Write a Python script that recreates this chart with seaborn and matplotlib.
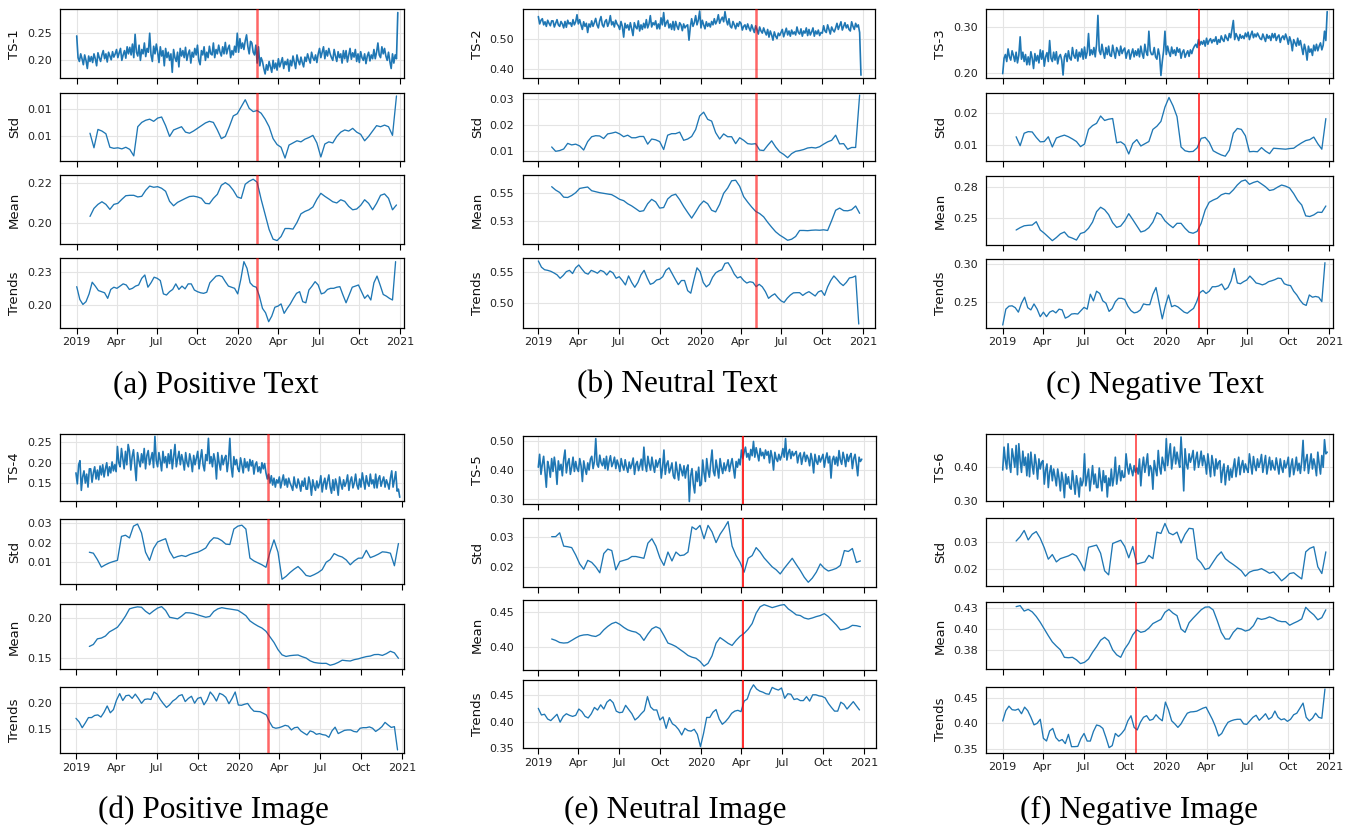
import numpy as np
import pandas as pd
import matplotlib
matplotlib.use("Agg")
import matplotlib.pyplot as plt
import seaborn as sns

# ------------------------------------------------------------------ data
TS_START = "2019-01-01"      # raw series, one value every 3 days
STAT_START = "2019-01-31"    # rolling std / mean, one value every 9 days
TREND_START = "2019-01-01"   # trend, one value every 7 days

ts_a = [0.245, 0.205, 0.198, 0.212, 0.203, 0.192, 0.210, 0.200, 0.185, 0.208, 0.198,
        0.207, 0.196, 0.212, 0.203, 0.190, 0.214, 0.205, 0.198, 0.210,
        0.218, 0.203, 0.212, 0.197, 0.215, 0.208, 0.201, 0.216, 0.206, 0.212,
        0.220, 0.205, 0.214, 0.222, 0.200, 0.210, 0.218, 0.204, 0.225, 0.212,
        0.224, 0.210, 0.230, 0.205, 0.248, 0.215, 0.208, 0.228, 0.200, 0.220, 0.212,
        0.232, 0.207, 0.222, 0.215, 0.250, 0.210, 0.198, 0.226, 0.212, 0.230,
        0.215, 0.196, 0.225, 0.208, 0.218, 0.190, 0.222, 0.205, 0.215, 0.200,
        0.212, 0.178, 0.220, 0.205, 0.198, 0.215, 0.188, 0.222, 0.208, 0.218,
        0.205, 0.224, 0.200, 0.212, 0.219, 0.195, 0.215, 0.206, 0.222, 0.210,
        0.228, 0.200, 0.192, 0.218, 0.210, 0.225, 0.200, 0.215, 0.205, 0.226, 0.212,
        0.210, 0.232, 0.205, 0.220, 0.212, 0.228, 0.215, 0.208, 0.225, 0.212,
        0.233, 0.212, 0.222, 0.228, 0.205, 0.218, 0.210, 0.226, 0.215, 0.250,
        0.215, 0.240, 0.222, 0.232, 0.220, 0.236, 0.247, 0.225, 0.212, 0.235,
        0.232, 0.215, 0.210, 0.228, 0.195, 0.225, 0.190, 0.205, 0.198, 0.185,
        0.175, 0.192, 0.182, 0.198, 0.188, 0.178, 0.200, 0.185, 0.195, 0.182,
        0.203, 0.188, 0.196, 0.205, 0.185, 0.198, 0.192, 0.202, 0.180, 0.200,
        0.190, 0.208, 0.196, 0.185, 0.210, 0.199, 0.192, 0.206, 0.196, 0.188, 0.206,
        0.198, 0.212, 0.203, 0.195, 0.215, 0.205, 0.200, 0.210, 0.196, 0.212,
        0.222, 0.205, 0.215, 0.225, 0.203, 0.218, 0.208, 0.222, 0.212, 0.205,
        0.200, 0.220, 0.208, 0.198, 0.216, 0.205, 0.212, 0.195, 0.218, 0.203,
        0.218, 0.197, 0.210, 0.222, 0.202, 0.214, 0.206, 0.220, 0.198, 0.212,
        0.196, 0.216, 0.205, 0.200, 0.212, 0.194, 0.208, 0.215, 0.199, 0.210, 0.203,
        0.220, 0.203, 0.215, 0.232, 0.210, 0.205, 0.225, 0.212, 0.222, 0.208,
        0.200, 0.215, 0.198, 0.185, 0.212, 0.195, 0.210, 0.203, 0.288]
std_a = [0.0106, 0.0079, 0.0113, 0.0110, 0.0105, 0.0080, 0.0078, 0.0079, 0.0077, 0.0080,
         0.0076, 0.0064, 0.0118, 0.0126, 0.0130, 0.0132, 0.0128, 0.0134, 0.0136, 0.0120,
         0.0100, 0.0112, 0.0115, 0.0118, 0.0108, 0.0106, 0.0110, 0.0115, 0.0120, 0.0125,
         0.0128, 0.0126, 0.0112, 0.0096, 0.0100, 0.0118, 0.0138, 0.0142, 0.0155, 0.0168,
         0.0152, 0.0146, 0.0148, 0.0143, 0.0132, 0.0118, 0.0096, 0.0085, 0.0080, 0.0060,
         0.0084, 0.0088, 0.0092, 0.0090, 0.0095, 0.0098, 0.0102, 0.0088, 0.0062, 0.0086,
         0.0090, 0.0088, 0.0100, 0.0108, 0.0112, 0.0110, 0.0115, 0.0108, 0.0104, 0.0092,
         0.0100, 0.0110, 0.0120, 0.0118, 0.0121, 0.0118, 0.0102, 0.0175]
mean_a = [0.2035, 0.2075, 0.2095, 0.2108, 0.2095, 0.2070, 0.2095, 0.2100, 0.2120, 0.2138,
          0.2140, 0.2140, 0.2132, 0.2135, 0.2165, 0.2186, 0.2180, 0.2183, 0.2175, 0.2160,
          0.2110, 0.2088, 0.2105, 0.2115, 0.2125, 0.2134, 0.2136, 0.2132, 0.2125, 0.2100,
          0.2098, 0.2125, 0.2145, 0.2190, 0.2203, 0.2190, 0.2165, 0.2132, 0.2125, 0.2195,
          0.2210, 0.2220, 0.2205, 0.2120, 0.2045, 0.1970, 0.1922, 0.1915, 0.1935, 0.1975,
          0.1975, 0.1972, 0.2005, 0.2048, 0.2060, 0.2068, 0.2082, 0.2120, 0.2150, 0.2135,
          0.2122, 0.2108, 0.2102, 0.2118, 0.2110, 0.2085, 0.2068, 0.2072, 0.2090, 0.2118,
          0.2100, 0.2068, 0.2100, 0.2140, 0.2147, 0.2125, 0.2068, 0.2092]
trend_a = [0.2165, 0.2050, 0.2005, 0.2030, 0.2100, 0.2205, 0.2170, 0.2130, 0.2120, 0.2110,
           0.2060, 0.2140, 0.2160, 0.2150, 0.2170, 0.2190, 0.2180, 0.2140, 0.2150, 0.2170,
           0.2180, 0.2240, 0.2270, 0.2160, 0.2200, 0.2250, 0.2240, 0.2220, 0.2100, 0.2090,
           0.2120, 0.2140, 0.2190, 0.2140, 0.2170, 0.2145, 0.2190, 0.2190, 0.2135, 0.2120,
           0.2110, 0.2105, 0.2115, 0.2200, 0.2230, 0.2260, 0.2265, 0.2255, 0.2210, 0.2170,
           0.2160, 0.2150, 0.2100, 0.2230, 0.2390, 0.2330, 0.2200, 0.2170, 0.2160, 0.2080,
           0.1970, 0.1930, 0.1850, 0.1900, 0.1980, 0.1990, 0.2010, 0.1925, 0.1970, 0.2010,
           0.2060, 0.2105, 0.2120, 0.2030, 0.2020, 0.2135, 0.2170, 0.2210, 0.2180, 0.2100,
           0.2110, 0.2140, 0.2150, 0.2150, 0.2160, 0.2165, 0.2090, 0.2020, 0.2090, 0.2160,
           0.2170, 0.2180, 0.2120, 0.2060, 0.2090, 0.2045, 0.2200, 0.2260, 0.2180, 0.2095,
           0.2080, 0.2060, 0.2045, 0.2390]

ts_b = [0.572, 0.548, 0.560, 0.565, 0.545, 0.555, 0.540, 0.560, 0.550, 0.542, 0.558,
        0.558, 0.538, 0.550, 0.562, 0.545, 0.540, 0.556, 0.548, 0.535,
        0.556, 0.537, 0.560, 0.548, 0.552, 0.540, 0.562, 0.545, 0.555, 0.578,
        0.548, 0.562, 0.545, 0.530, 0.555, 0.540, 0.550, 0.520, 0.548, 0.538,
        0.558, 0.540, 0.552, 0.566, 0.545, 0.535, 0.558, 0.572, 0.545, 0.538, 0.556,
        0.562, 0.540, 0.552, 0.575, 0.545, 0.555, 0.538, 0.560, 0.548, 0.542,
        0.530, 0.556, 0.540, 0.505, 0.550, 0.535, 0.545, 0.528, 0.552, 0.532,
        0.510, 0.552, 0.538, 0.532, 0.558, 0.525, 0.545, 0.530, 0.550, 0.535,
        0.562, 0.535, 0.548, 0.575, 0.538, 0.552, 0.545, 0.558, 0.532, 0.548,
        0.532, 0.568, 0.545, 0.585, 0.540, 0.552, 0.560, 0.535, 0.548, 0.530, 0.556,
        0.528, 0.556, 0.540, 0.530, 0.552, 0.545, 0.526, 0.548, 0.535, 0.542,
        0.545, 0.495, 0.538, 0.565, 0.540, 0.552, 0.575, 0.545, 0.560, 0.590,
        0.535, 0.560, 0.545, 0.532, 0.555, 0.540, 0.550, 0.538, 0.556, 0.545,
        0.565, 0.548, 0.558, 0.578, 0.550, 0.562, 0.570, 0.555, 0.588, 0.560,
        0.545, 0.565, 0.540, 0.535, 0.556, 0.545, 0.532, 0.550, 0.540, 0.555,
        0.550, 0.528, 0.540, 0.545, 0.530, 0.548, 0.535, 0.525, 0.545, 0.532,
        0.520, 0.542, 0.530, 0.515, 0.538, 0.525, 0.518, 0.535, 0.522, 0.512, 0.530,
        0.505, 0.525, 0.512, 0.495, 0.522, 0.508, 0.500, 0.518, 0.510, 0.520,
        0.530, 0.506, 0.520, 0.534, 0.512, 0.525, 0.508, 0.528, 0.515, 0.522,
        0.512, 0.538, 0.520, 0.515, 0.532, 0.508, 0.525, 0.518, 0.535, 0.510,
        0.530, 0.512, 0.522, 0.535, 0.508, 0.525, 0.515, 0.528, 0.510, 0.520,
        0.518, 0.542, 0.525, 0.520, 0.545, 0.530, 0.515, 0.538, 0.528, 0.522, 0.535,
        0.550, 0.530, 0.542, 0.555, 0.528, 0.540, 0.552, 0.535, 0.545, 0.530,
        0.525, 0.555, 0.540, 0.530, 0.550, 0.538, 0.545, 0.520, 0.381]
std_b = [0.0114, 0.0097, 0.0100, 0.0106, 0.0128, 0.0122, 0.0125, 0.0118, 0.0102, 0.0135,
         0.0154, 0.0158, 0.0157, 0.0147, 0.0165, 0.0168, 0.0172, 0.0165, 0.0154, 0.0160,
         0.0150, 0.0150, 0.0155, 0.0155, 0.0125, 0.0145, 0.0142, 0.0135, 0.0104, 0.0160,
         0.0166, 0.0166, 0.0172, 0.0140, 0.0145, 0.0155, 0.0182, 0.0235, 0.0250, 0.0222,
         0.0215, 0.0170, 0.0145, 0.0165, 0.0154, 0.0154, 0.0127, 0.0150, 0.0140, 0.0127,
         0.0125, 0.0127, 0.0102, 0.0100, 0.0120, 0.0138, 0.0114, 0.0095, 0.0085, 0.0072,
         0.0088, 0.0097, 0.0100, 0.0104, 0.0110, 0.0112, 0.0110, 0.0115, 0.0125, 0.0134,
         0.0140, 0.0160, 0.0126, 0.0127, 0.0105, 0.0112, 0.0112, 0.0317]
mean_b = [0.5561, 0.5530, 0.5508, 0.5465, 0.5462, 0.5480, 0.5506, 0.5545, 0.5552, 0.5558,
          0.5524, 0.5515, 0.5506, 0.5500, 0.5494, 0.5488, 0.5468, 0.5445, 0.5433, 0.5405,
          0.5385, 0.5360, 0.5334, 0.5341, 0.5405, 0.5445, 0.5422, 0.5365, 0.5370, 0.5448,
          0.5480, 0.5492, 0.5442, 0.5380, 0.5325, 0.5273, 0.5330, 0.5390, 0.5430, 0.5405,
          0.5345, 0.5330, 0.5400, 0.5500, 0.5548, 0.5615, 0.5620, 0.5565, 0.5470, 0.5420,
          0.5375, 0.5335, 0.5315, 0.5285, 0.5235, 0.5190, 0.5148, 0.5118, 0.5095, 0.5070,
          0.5080, 0.5105, 0.5160, 0.5160, 0.5158, 0.5162, 0.5164, 0.5162, 0.5166, 0.5160,
          0.5250, 0.5345, 0.5365, 0.5342, 0.5340, 0.5350, 0.5384, 0.5317]
trend_b = [0.5668, 0.5570, 0.5530, 0.5520, 0.5505, 0.5480, 0.5450, 0.5395, 0.5440, 0.5500,
           0.5520, 0.5470, 0.5560, 0.5605, 0.5540, 0.5480, 0.5460, 0.5520, 0.5500, 0.5475,
           0.5520, 0.5500, 0.5447, 0.5510, 0.5480, 0.5395, 0.5420, 0.5360, 0.5290, 0.5432,
           0.5330, 0.5253, 0.5330, 0.5450, 0.5520, 0.5400, 0.5300, 0.5320, 0.5368, 0.5380,
           0.5420, 0.5520, 0.5560, 0.5470, 0.5380, 0.5295, 0.5360, 0.5360, 0.5200, 0.5160,
           0.5368, 0.5560, 0.5500, 0.5330, 0.5260, 0.5300, 0.5410, 0.5480, 0.5510, 0.5530,
           0.5630, 0.5640, 0.5560, 0.5460, 0.5400, 0.5420, 0.5360, 0.5320, 0.5340, 0.5330,
           0.5263, 0.5300, 0.5260, 0.5184, 0.5079, 0.5120, 0.5150, 0.5090, 0.5040, 0.5015,
           0.5080, 0.5130, 0.5165, 0.5168, 0.5168, 0.5125, 0.5160, 0.5184, 0.5150, 0.5116,
           0.5180, 0.5200, 0.5125, 0.5260, 0.5360, 0.5432, 0.5380, 0.5320, 0.5280, 0.5330,
           0.5400, 0.5410, 0.5432, 0.4674]

ts_c = [0.199, 0.232, 0.240, 0.225, 0.252, 0.235, 0.228, 0.248, 0.238, 0.225, 0.245,
        0.222, 0.238, 0.278, 0.230, 0.245, 0.225, 0.240, 0.218, 0.235,
        0.218, 0.246, 0.232, 0.210, 0.242, 0.226, 0.238, 0.222, 0.250, 0.230,
        0.248, 0.215, 0.235, 0.244, 0.225, 0.270, 0.232, 0.225, 0.245, 0.228,
        0.246, 0.220, 0.235, 0.240, 0.228, 0.196, 0.235, 0.242, 0.225, 0.248, 0.232,
        0.228, 0.255, 0.238, 0.232, 0.250, 0.226, 0.245, 0.235, 0.252, 0.230,
        0.256, 0.232, 0.245, 0.285, 0.238, 0.250, 0.240, 0.255, 0.235, 0.262,
        0.324, 0.248, 0.240, 0.262, 0.245, 0.232, 0.255, 0.240, 0.258, 0.238,
        0.236, 0.260, 0.245, 0.232, 0.255, 0.248, 0.238, 0.258, 0.242, 0.250,
        0.254, 0.232, 0.245, 0.250, 0.230, 0.242, 0.252, 0.235, 0.248, 0.238, 0.252,
        0.235, 0.258, 0.242, 0.232, 0.262, 0.245, 0.238, 0.290, 0.248, 0.240,
        0.240, 0.255, 0.235, 0.230, 0.252, 0.238, 0.195, 0.225, 0.248, 0.290,
        0.240, 0.258, 0.245, 0.236, 0.256, 0.242, 0.250, 0.238, 0.255, 0.245,
        0.252, 0.232, 0.245, 0.250, 0.234, 0.242, 0.248, 0.236, 0.250, 0.242,
        0.252, 0.258, 0.262, 0.255, 0.272, 0.260, 0.268, 0.262, 0.270, 0.258,
        0.275, 0.262, 0.270, 0.274, 0.265, 0.272, 0.268, 0.278, 0.262, 0.272,
        0.266, 0.280, 0.272, 0.268, 0.282, 0.275, 0.270, 0.285, 0.276, 0.295, 0.313,
        0.272, 0.285, 0.278, 0.270, 0.283, 0.275, 0.280, 0.274, 0.286, 0.278,
        0.288, 0.272, 0.282, 0.290, 0.276, 0.284, 0.278, 0.286, 0.280, 0.274,
        0.272, 0.284, 0.276, 0.268, 0.283, 0.275, 0.280, 0.270, 0.285, 0.276,
        0.285, 0.270, 0.278, 0.282, 0.266, 0.276, 0.280, 0.272, 0.284, 0.275,
        0.262, 0.278, 0.268, 0.248, 0.272, 0.265, 0.258, 0.275, 0.260, 0.270, 0.255,
        0.240, 0.262, 0.250, 0.228, 0.258, 0.245, 0.252, 0.238, 0.260, 0.248,
        0.262, 0.248, 0.258, 0.265, 0.250, 0.260, 0.290, 0.270, 0.332]
std_c = [0.0127, 0.0099, 0.0138, 0.0143, 0.0142, 0.0125, 0.0111, 0.0112, 0.0127, 0.0095,
         0.0123, 0.0128, 0.0132, 0.0127, 0.0120, 0.0112, 0.0096, 0.0104, 0.0150, 0.0162,
         0.0169, 0.0192, 0.0178, 0.0182, 0.0184, 0.0108, 0.0111, 0.0102, 0.0073, 0.0106,
         0.0118, 0.0098, 0.0105, 0.0112, 0.0150, 0.0160, 0.0175, 0.0220, 0.0250, 0.0224,
         0.0190, 0.0095, 0.0083, 0.0080, 0.0081, 0.0092, 0.0122, 0.0125, 0.0110, 0.0083,
         0.0076, 0.0070, 0.0066, 0.0085, 0.0138, 0.0153, 0.0150, 0.0130, 0.0080, 0.0081,
         0.0080, 0.0093, 0.0082, 0.0074, 0.0091, 0.0090, 0.0089, 0.0088, 0.0090, 0.0091,
         0.0100, 0.0108, 0.0115, 0.0118, 0.0126, 0.0105, 0.0088, 0.0184]
mean_c = [0.2406, 0.2425, 0.2440, 0.2444, 0.2446, 0.2473, 0.2406, 0.2380, 0.2350, 0.2320,
          0.2345, 0.2375, 0.2390, 0.2352, 0.2340, 0.2325, 0.2378, 0.2388, 0.2420, 0.2470,
          0.2554, 0.2590, 0.2570, 0.2530, 0.2465, 0.2427, 0.2438, 0.2480, 0.2538, 0.2490,
          0.2440, 0.2390, 0.2400, 0.2425, 0.2470, 0.2546, 0.2530, 0.2480, 0.2450, 0.2425,
          0.2460, 0.2460, 0.2420, 0.2388, 0.2380, 0.2395, 0.2460, 0.2567, 0.2630, 0.2648,
          0.2662, 0.2690, 0.2702, 0.2698, 0.2730, 0.2770, 0.2800, 0.2810, 0.2775, 0.2790,
          0.2800, 0.2778, 0.2755, 0.2725, 0.2732, 0.2752, 0.2769, 0.2760, 0.2745, 0.2700,
          0.2645, 0.2608, 0.2520, 0.2515, 0.2528, 0.2550, 0.2548, 0.2600]
trend_c = [0.2188, 0.2400, 0.2440, 0.2445, 0.2420, 0.2360, 0.2480, 0.2560, 0.2420, 0.2390,
           0.2470, 0.2400, 0.2299, 0.2360, 0.2300, 0.2360, 0.2380, 0.2350, 0.2400, 0.2390,
           0.2280, 0.2300, 0.2335, 0.2340, 0.2335, 0.2380, 0.2424, 0.2400, 0.2600, 0.2510,
           0.2640, 0.2610, 0.2510, 0.2480, 0.2370, 0.2410, 0.2500, 0.2545, 0.2545, 0.2530,
           0.2440, 0.2380, 0.2350, 0.2360, 0.2390, 0.2470, 0.2460, 0.2460, 0.2600, 0.2690,
           0.2480, 0.2270, 0.2450, 0.2589, 0.2433, 0.2450, 0.2430, 0.2395, 0.2360, 0.2345,
           0.2380, 0.2410, 0.2500, 0.2620, 0.2650, 0.2610, 0.2640, 0.2700, 0.2700, 0.2710,
           0.2736, 0.2660, 0.2690, 0.2780, 0.2946, 0.2750, 0.2740, 0.2768, 0.2790, 0.2843,
           0.2800, 0.2750, 0.2740, 0.2725, 0.2740, 0.2768, 0.2780, 0.2795, 0.2815, 0.2810,
           0.2740, 0.2723, 0.2715, 0.2640, 0.2590, 0.2522, 0.2470, 0.2450, 0.2590, 0.2560,
           0.2570, 0.2560, 0.2500, 0.3022]

ts_d = [0.175, 0.148, 0.195, 0.205, 0.132, 0.165, 0.180, 0.150, 0.172, 0.140, 0.185,
        0.185, 0.152, 0.175, 0.190, 0.160, 0.182, 0.158, 0.192, 0.170,
        0.195, 0.165, 0.185, 0.200, 0.168, 0.190, 0.175, 0.202, 0.180, 0.195,
        0.178, 0.240, 0.200, 0.190, 0.235, 0.210, 0.185, 0.228, 0.195, 0.245,
        0.228, 0.182, 0.215, 0.232, 0.195, 0.156, 0.225, 0.205, 0.190, 0.222, 0.200,
        0.235, 0.185, 0.218, 0.230, 0.195, 0.210, 0.225, 0.188, 0.265, 0.205,
        0.190, 0.225, 0.205, 0.180, 0.228, 0.200, 0.215, 0.188, 0.222, 0.198,
        0.232, 0.185, 0.215, 0.245, 0.190, 0.210, 0.228, 0.195, 0.220, 0.205,
        0.182, 0.225, 0.200, 0.190, 0.222, 0.205, 0.178, 0.218, 0.195, 0.212,
        0.228, 0.185, 0.210, 0.232, 0.195, 0.180, 0.220, 0.205, 0.260, 0.198, 0.215,
        0.190, 0.222, 0.205, 0.160, 0.225, 0.200, 0.182, 0.218, 0.195, 0.210,
        0.218, 0.178, 0.205, 0.260, 0.190, 0.165, 0.215, 0.195, 0.208, 0.185,
        0.178, 0.212, 0.195, 0.175, 0.210, 0.188, 0.202, 0.180, 0.208, 0.192,
        0.205, 0.172, 0.195, 0.202, 0.178, 0.190, 0.175, 0.200, 0.185, 0.198,
        0.175, 0.160, 0.172, 0.150, 0.168, 0.145, 0.162, 0.140, 0.158, 0.150,
        0.165, 0.138, 0.155, 0.170, 0.145, 0.160, 0.140, 0.162, 0.150, 0.142,
        0.132, 0.165, 0.145, 0.138, 0.160, 0.148, 0.130, 0.155, 0.142, 0.162, 0.135,
        0.135, 0.165, 0.150, 0.120, 0.158, 0.142, 0.132, 0.155, 0.138, 0.148,
        0.168, 0.128, 0.150, 0.162, 0.135, 0.155, 0.170, 0.140, 0.125, 0.158,
        0.132, 0.160, 0.145, 0.120, 0.165, 0.148, 0.135, 0.158, 0.142, 0.152,
        0.170, 0.132, 0.155, 0.165, 0.138, 0.150, 0.172, 0.145, 0.135, 0.160,
        0.140, 0.175, 0.155, 0.135, 0.168, 0.150, 0.142, 0.172, 0.148, 0.158, 0.138,
        0.172, 0.138, 0.160, 0.168, 0.142, 0.155, 0.165, 0.140, 0.158, 0.148,
        0.135, 0.162, 0.180, 0.140, 0.158, 0.178, 0.130, 0.135, 0.115]
std_d = [0.0150, 0.0145, 0.0112, 0.0073, 0.0085, 0.0095, 0.0102, 0.0108, 0.0232, 0.0238,
         0.0224, 0.0285, 0.0296, 0.0250, 0.0150, 0.0108, 0.0170, 0.0203, 0.0212, 0.0220,
         0.0155, 0.0120, 0.0128, 0.0133, 0.0128, 0.0138, 0.0145, 0.0150, 0.0160, 0.0172,
         0.0205, 0.0225, 0.0222, 0.0210, 0.0192, 0.0190, 0.0270, 0.0285, 0.0290, 0.0270,
         0.0120, 0.0105, 0.0095, 0.0085, 0.0072, 0.0150, 0.0214, 0.0150, 0.0010, 0.0025,
         0.0045, 0.0062, 0.0076, 0.0055, 0.0030, 0.0025, 0.0034, 0.0045, 0.0060, 0.0098,
         0.0112, 0.0143, 0.0132, 0.0125, 0.0110, 0.0085, 0.0105, 0.0119, 0.0120, 0.0160,
         0.0122, 0.0130, 0.0140, 0.0152, 0.0150, 0.0145, 0.0080, 0.0195]
mean_d = [0.1640, 0.1665, 0.1735, 0.1745, 0.1770, 0.1822, 0.1850, 0.1880, 0.1945, 0.2020,
          0.2110, 0.2125, 0.2135, 0.2130, 0.2080, 0.2045, 0.2085, 0.2120, 0.2138, 0.2090,
          0.2005, 0.1995, 0.1985, 0.2020, 0.2062, 0.2060, 0.2052, 0.2035, 0.2020, 0.2005,
          0.2015, 0.2078, 0.2110, 0.2125, 0.2115, 0.2108, 0.2100, 0.2092, 0.2060, 0.2025,
          0.1960, 0.1925, 0.1895, 0.1870, 0.1830, 0.1760, 0.1690, 0.1600, 0.1535, 0.1515,
          0.1525, 0.1530, 0.1533, 0.1512, 0.1495, 0.1460, 0.1440, 0.1432, 0.1428, 0.1429,
          0.1405, 0.1418, 0.1440, 0.1468, 0.1462, 0.1458, 0.1475, 0.1485, 0.1500, 0.1513,
          0.1520, 0.1538, 0.1540, 0.1528, 0.1550, 0.1580, 0.1560, 0.1492]
trend_d = [0.1706, 0.1640, 0.1530, 0.1620, 0.1720, 0.1720, 0.1760, 0.1770, 0.1730, 0.1820,
           0.1938, 0.1810, 0.1870, 0.2050, 0.2170, 0.2040, 0.2130, 0.2140, 0.2080, 0.2160,
           0.2080, 0.1988, 0.2060, 0.2070, 0.2060, 0.2200, 0.2160, 0.2060, 0.1980, 0.1910,
           0.1960, 0.2030, 0.2070, 0.2130, 0.2150, 0.2020, 0.2080, 0.2120, 0.1990, 0.2080,
           0.2100, 0.1960, 0.2050, 0.2200, 0.2130, 0.2030, 0.2175, 0.2150, 0.2100, 0.1980,
           0.2080, 0.2200, 0.1956, 0.1950, 0.1970, 0.1985, 0.1900, 0.1840, 0.1835, 0.1830,
           0.1800, 0.1769, 0.1640, 0.1540, 0.1520, 0.1530, 0.1550, 0.1575, 0.1560, 0.1488,
           0.1530, 0.1540, 0.1470, 0.1430, 0.1394, 0.1470, 0.1450, 0.1406, 0.1420, 0.1400,
           0.1390, 0.1350, 0.1470, 0.1540, 0.1420, 0.1450, 0.1480, 0.1488, 0.1488, 0.1460,
           0.1450, 0.1520, 0.1531, 0.1531, 0.1545, 0.1520, 0.1460, 0.1500, 0.1550, 0.1630,
           0.1580, 0.1535, 0.1550, 0.1113]

ts_e = [0.410, 0.455, 0.385, 0.420, 0.448, 0.395, 0.340, 0.430, 0.410, 0.375, 0.440,
        0.395, 0.445, 0.410, 0.350, 0.432, 0.400, 0.420, 0.380, 0.438,
        0.470, 0.390, 0.425, 0.440, 0.385, 0.410, 0.445, 0.395, 0.430, 0.405,
        0.395, 0.440, 0.415, 0.360, 0.432, 0.405, 0.385, 0.425, 0.400, 0.438,
        0.448, 0.405, 0.430, 0.510, 0.420, 0.410, 0.452, 0.425, 0.415, 0.440, 0.405,
        0.448, 0.400, 0.430, 0.450, 0.412, 0.425, 0.445, 0.405, 0.435, 0.418,
        0.395, 0.440, 0.415, 0.400, 0.436, 0.410, 0.392, 0.428, 0.405, 0.420,
        0.442, 0.385, 0.420, 0.430, 0.398, 0.415, 0.438, 0.400, 0.480, 0.420,
        0.395, 0.448, 0.420, 0.400, 0.445, 0.415, 0.392, 0.435, 0.410, 0.428,
        0.440, 0.372, 0.410, 0.470, 0.385, 0.420, 0.432, 0.390, 0.405, 0.425, 0.380,
        0.370, 0.428, 0.395, 0.365, 0.420, 0.400, 0.380, 0.415, 0.372, 0.405,
        0.418, 0.290, 0.380, 0.405, 0.350, 0.320, 0.395, 0.360, 0.410, 0.345,
        0.350, 0.435, 0.390, 0.360, 0.440, 0.400, 0.375, 0.425, 0.470, 0.395,
        0.380, 0.435, 0.405, 0.372, 0.440, 0.410, 0.388, 0.425, 0.398, 0.415,
        0.436, 0.395, 0.420, 0.440, 0.405, 0.372, 0.430, 0.410, 0.438, 0.418,
        0.470, 0.440, 0.462, 0.480, 0.445, 0.458, 0.435, 0.472, 0.450, 0.500,
        0.445, 0.478, 0.455, 0.432, 0.475, 0.450, 0.462, 0.440, 0.470, 0.452, 0.465,
        0.425, 0.468, 0.445, 0.400, 0.462, 0.440, 0.430, 0.455, 0.435, 0.450,
        0.475, 0.445, 0.510, 0.435, 0.460, 0.472, 0.440, 0.465, 0.450, 0.458,
        0.465, 0.425, 0.450, 0.460, 0.420, 0.445, 0.462, 0.430, 0.452, 0.440,
        0.415, 0.458, 0.435, 0.390, 0.455, 0.430, 0.420, 0.450, 0.428, 0.442,
        0.455, 0.410, 0.440, 0.460, 0.425, 0.448, 0.372, 0.435, 0.448, 0.420, 0.445,
        0.415, 0.468, 0.435, 0.420, 0.462, 0.440, 0.412, 0.455, 0.430, 0.448,
        0.458, 0.405, 0.440, 0.455, 0.420, 0.380, 0.445, 0.430, 0.438]
std_e = [0.0302, 0.0302, 0.0315, 0.0270, 0.0268, 0.0265, 0.0240, 0.0210, 0.0192, 0.0222,
         0.0215, 0.0200, 0.0180, 0.0245, 0.0260, 0.0255, 0.0190, 0.0218, 0.0222, 0.0226,
         0.0235, 0.0235, 0.0232, 0.0229, 0.0280, 0.0295, 0.0270, 0.0230, 0.0205, 0.0250,
         0.0220, 0.0250, 0.0238, 0.0240, 0.0250, 0.0335, 0.0326, 0.0340, 0.0295, 0.0340,
         0.0318, 0.0282, 0.0310, 0.0330, 0.0353, 0.0270, 0.0238, 0.0215, 0.0182, 0.0229,
         0.0238, 0.0265, 0.0250, 0.0230, 0.0215, 0.0200, 0.0190, 0.0176, 0.0195, 0.0212,
         0.0229, 0.0208, 0.0188, 0.0165, 0.0148, 0.0162, 0.0182, 0.0210, 0.0195, 0.0186,
         0.0190, 0.0195, 0.0205, 0.0255, 0.0252, 0.0262, 0.0215, 0.0220]
mean_e = [0.4110, 0.4090, 0.4060, 0.4052, 0.4057, 0.4090, 0.4125, 0.4155, 0.4168, 0.4172,
          0.4155, 0.4146, 0.4175, 0.4240, 0.4290, 0.4330, 0.4350, 0.4319, 0.4275, 0.4240,
          0.4220, 0.4208, 0.4170, 0.4090, 0.4180, 0.4255, 0.4285, 0.4260, 0.4160, 0.4052,
          0.4030, 0.4002, 0.3960, 0.3920, 0.3875, 0.3850, 0.3835, 0.3790, 0.3722, 0.3762,
          0.3870, 0.4050, 0.4130, 0.4090, 0.4048, 0.4018, 0.4090, 0.4150, 0.4190, 0.4250,
          0.4330, 0.4480, 0.4571, 0.4600, 0.4580, 0.4558, 0.4575, 0.4592, 0.4602, 0.4540,
          0.4500, 0.4455, 0.4445, 0.4410, 0.4395, 0.4410, 0.4430, 0.4445, 0.4472, 0.4430,
          0.4370, 0.4310, 0.4240, 0.4250, 0.4270, 0.4305, 0.4300, 0.4286]
trend_e = [0.4253, 0.4127, 0.4140, 0.4050, 0.4020, 0.4080, 0.4140, 0.3990, 0.4100, 0.4150,
           0.4120, 0.4100, 0.4120, 0.4240, 0.4190, 0.4100, 0.4070, 0.4150, 0.4270, 0.4220,
           0.4320, 0.4240, 0.4370, 0.4420, 0.4360, 0.4200, 0.4170, 0.4180, 0.4310, 0.4230,
           0.4150, 0.4032, 0.4080, 0.4150, 0.4210, 0.4475, 0.4280, 0.4222, 0.4222, 0.4032,
           0.4090, 0.3873, 0.4076, 0.3960, 0.3920, 0.3850, 0.3747, 0.3873, 0.3830, 0.3820,
           0.3855, 0.3760, 0.3525, 0.3780, 0.4080, 0.4080, 0.4180, 0.4230, 0.4050, 0.3950,
           0.4000, 0.4070, 0.4158, 0.4200, 0.4215, 0.4190, 0.4390, 0.4430, 0.4600, 0.4700,
           0.4620, 0.4580, 0.4560, 0.4530, 0.4520, 0.4650, 0.4620, 0.4600, 0.4640, 0.4443,
           0.4530, 0.4520, 0.4420, 0.4435, 0.4400, 0.4400, 0.4475, 0.4390, 0.4510, 0.4510,
           0.4490, 0.4480, 0.4450, 0.4348, 0.4270, 0.4200, 0.4200, 0.4370, 0.4330, 0.4240,
           0.4310, 0.4380, 0.4300, 0.4222]

ts_f = [0.392, 0.460, 0.420, 0.395, 0.470, 0.410, 0.385, 0.455, 0.430, 0.400, 0.465,
        0.378, 0.470, 0.420, 0.385, 0.448, 0.405, 0.430, 0.375, 0.440,
        0.372, 0.445, 0.405, 0.380, 0.438, 0.410, 0.365, 0.425, 0.395, 0.415,
        0.420, 0.350, 0.392, 0.410, 0.340, 0.385, 0.405, 0.360, 0.395, 0.372,
        0.345, 0.395, 0.368, 0.330, 0.385, 0.360, 0.310, 0.380, 0.350, 0.372, 0.340,
        0.335, 0.390, 0.355, 0.320, 0.375, 0.350, 0.312, 0.368, 0.345, 0.360,
        0.440, 0.345, 0.372, 0.395, 0.330, 0.365, 0.405, 0.350, 0.380, 0.340,
        0.340, 0.398, 0.365, 0.330, 0.390, 0.355, 0.375, 0.312, 0.368, 0.345,
        0.395, 0.345, 0.372, 0.430, 0.350, 0.380, 0.405, 0.360, 0.390, 0.370,
        0.372, 0.440, 0.400, 0.380, 0.410, 0.392, 0.375, 0.405, 0.385, 0.398, 0.380,
        0.425, 0.345, 0.400, 0.430, 0.385, 0.410, 0.440, 0.375, 0.405, 0.395,
        0.335, 0.420, 0.395, 0.375, 0.450, 0.400, 0.380, 0.430, 0.410, 0.390,
        0.485, 0.405, 0.440, 0.470, 0.395, 0.425, 0.460, 0.410, 0.445, 0.420,
        0.400, 0.490, 0.420, 0.330, 0.455, 0.410, 0.395, 0.440, 0.415, 0.430,
        0.450, 0.392, 0.425, 0.445, 0.400, 0.420, 0.448, 0.405, 0.435, 0.415,
        0.380, 0.440, 0.405, 0.372, 0.435, 0.410, 0.375, 0.425, 0.395, 0.415,
        0.420, 0.355, 0.390, 0.410, 0.348, 0.385, 0.405, 0.362, 0.395, 0.370, 0.400,
        0.425, 0.372, 0.400, 0.430, 0.378, 0.405, 0.420, 0.385, 0.410, 0.395,
        0.385, 0.440, 0.410, 0.380, 0.432, 0.405, 0.390, 0.425, 0.400, 0.415,
        0.438, 0.385, 0.410, 0.435, 0.380, 0.405, 0.430, 0.392, 0.420, 0.400,
        0.392, 0.428, 0.405, 0.380, 0.425, 0.400, 0.385, 0.420, 0.398, 0.410,
        0.430, 0.372, 0.405, 0.425, 0.378, 0.400, 0.430, 0.390, 0.412, 0.382, 0.418,
        0.480, 0.390, 0.420, 0.438, 0.382, 0.410, 0.440, 0.395, 0.425, 0.405,
        0.375, 0.445, 0.410, 0.380, 0.435, 0.400, 0.482, 0.440, 0.445]
std_f = [0.0305, 0.0321, 0.0344, 0.0309, 0.0330, 0.0340, 0.0315, 0.0280, 0.0238, 0.0255,
         0.0228, 0.0240, 0.0245, 0.0250, 0.0258, 0.0250, 0.0225, 0.0195, 0.0282, 0.0286,
         0.0290, 0.0260, 0.0195, 0.0180, 0.0296, 0.0302, 0.0308, 0.0285, 0.0243, 0.0285,
         0.0220, 0.0224, 0.0228, 0.0252, 0.0240, 0.0338, 0.0333, 0.0370, 0.0335, 0.0328,
         0.0338, 0.0298, 0.0330, 0.0352, 0.0350, 0.0240, 0.0224, 0.0200, 0.0205, 0.0228,
         0.0250, 0.0265, 0.0240, 0.0228, 0.0218, 0.0207, 0.0195, 0.0175, 0.0190, 0.0196,
         0.0198, 0.0203, 0.0195, 0.0186, 0.0191, 0.0176, 0.0158, 0.0170, 0.0185, 0.0188,
         0.0176, 0.0165, 0.0265, 0.0278, 0.0284, 0.0210, 0.0185, 0.0265]
mean_f = [0.4268, 0.4280, 0.4215, 0.4235, 0.4205, 0.4150, 0.4080, 0.4000, 0.3920, 0.3845,
          0.3795, 0.3750, 0.3660, 0.3655, 0.3660, 0.3630, 0.3585, 0.3600, 0.3640, 0.3720,
          0.3788, 0.3865, 0.3900, 0.3860, 0.3750, 0.3690, 0.3660, 0.3760, 0.3830, 0.3930,
          0.3990, 0.3960, 0.3972, 0.4010, 0.4065, 0.4090, 0.4115, 0.4200, 0.4235, 0.4190,
          0.4160, 0.4000, 0.3960, 0.4075, 0.4130, 0.4180, 0.4230, 0.4262, 0.4265, 0.4228,
          0.4100, 0.3960, 0.3880, 0.3880, 0.3960, 0.4010, 0.4000, 0.3975, 0.3990, 0.4040,
          0.4130, 0.4115, 0.4125, 0.4145, 0.4128, 0.4100, 0.4088, 0.4088, 0.4045, 0.4070,
          0.4092, 0.4120, 0.4260, 0.4210, 0.4170, 0.4110, 0.4136, 0.4230]
trend_f = [0.4046, 0.4250, 0.4340, 0.4270, 0.4260, 0.4283, 0.4190, 0.4320, 0.4250, 0.4120,
           0.3970, 0.4000, 0.4080, 0.3704, 0.3651, 0.3850, 0.3900, 0.3717, 0.3650, 0.3680,
           0.3600, 0.3783, 0.3539, 0.3540, 0.3545, 0.3700, 0.3800, 0.3650, 0.3650, 0.3840,
           0.3967, 0.3950, 0.3900, 0.3720, 0.3520, 0.3560, 0.3800, 0.3740, 0.3800, 0.3880,
           0.4050, 0.4150, 0.3920, 0.3870, 0.4020, 0.4120, 0.4151, 0.4060, 0.4080, 0.4170,
           0.4100, 0.4050, 0.4420, 0.4263, 0.4050, 0.3990, 0.3920, 0.3990, 0.4100, 0.4200,
           0.4225, 0.4230, 0.4240, 0.4270, 0.4300, 0.4320, 0.4200, 0.4080, 0.3934, 0.3750,
           0.3800, 0.3920, 0.4020, 0.4050, 0.4070, 0.4080, 0.4080, 0.3990, 0.3980, 0.4050,
           0.4120, 0.4160, 0.4060, 0.4120, 0.4190, 0.4080, 0.4120, 0.4243, 0.4120, 0.4070,
           0.4090, 0.4040, 0.4080, 0.4170, 0.4200, 0.4300, 0.4400, 0.4120, 0.4050, 0.4100,
           0.4200, 0.4120, 0.4100, 0.4678]

series_names = ["TS-1", "TS-2", "TS-3", "TS-4", "TS-5", "TS-6"]
row_names = ["Std", "Mean", "Trends"]
captions = ["(a) Positive Text", "(b) Neutral Text", "(c) Negative Text",
            "(d) Positive Image", "(e) Neutral Image", "(f) Negative Image"]
change_dates = ["2020-02-12", "2020-05-04", "2020-03-16",
                "2020-03-06", "2020-04-04", "2019-10-26"]
xtick_dates = ["2019-01-01", "2019-04-01", "2019-07-01", "2019-10-01",
               "2020-01-01", "2020-04-01", "2020-07-01", "2020-10-01", "2021-01-01"]
xtick_labels = ["2019", "Apr", "Jul", "Oct", "2020", "Apr", "Jul", "Oct", "2021"]

yticks = {
    "a": [[0.20, 0.25], [0.010, 0.015], [0.20, 0.22], [0.20, 0.23]],
    "b": [[0.40, 0.50], [0.01, 0.02, 0.03], [0.525, 0.55], [0.50, 0.55]],
    "c": [[0.20, 0.30], [0.01, 0.02], [0.25, 0.275], [0.25, 0.30]],
    "d": [[0.15, 0.20, 0.25], [0.01, 0.02, 0.03], [0.15, 0.20], [0.15, 0.20]],
    "e": [[0.30, 0.40, 0.50], [0.02, 0.03], [0.40, 0.45], [0.35, 0.40, 0.45]],
    "f": [[0.30, 0.40], [0.02, 0.03], [0.375, 0.40, 0.425], [0.35, 0.40, 0.45]],
}
ytick_labels = {
    "a": [["0.20", "0.25"], ["0.01", "0.01"], ["0.20", "0.22"], ["0.20", "0.23"]],
    "b": [["0.40", "0.50"], ["0.01", "0.02", "0.03"], ["0.53", "0.55"], ["0.50", "0.55"]],
    "c": [["0.20", "0.30"], ["0.01", "0.02"], ["0.25", "0.28"], ["0.25", "0.30"]],
    "d": [["0.15", "0.20", "0.25"], ["0.01", "0.02", "0.03"], ["0.15", "0.20"], ["0.15", "0.20"]],
    "e": [["0.30", "0.40", "0.50"], ["0.02", "0.03"], ["0.40", "0.45"], ["0.35", "0.40", "0.45"]],
    "f": [["0.30", "0.40"], ["0.02", "0.03"], ["0.38", "0.40", "0.43"], ["0.35", "0.40", "0.45"]],
}

panel_data = {
    "a": [ts_a, std_a, mean_a, trend_a],
    "b": [ts_b, std_b, mean_b, trend_b],
    "c": [ts_c, std_c, mean_c, trend_c],
    "d": [ts_d, std_d, mean_d, trend_d],
    "e": [ts_e, std_e, mean_e, trend_e],
    "f": [ts_f, std_f, mean_f, trend_f],
}

# ------------------------------------------------------------------ layout (pixels)
W, H = 1358, 827
TOP_ROWS = [(9.3, 78.3), (92.7, 161.3), (175, 244), (258.3, 327.7)]
layout = {
    "a": dict(x=(60, 404), rows=TOP_ROWS, xlim=(-37.8, 740), cap=(216, 385),
              ylims=[(0.167, 0.294), (0.0054, 0.0181), (0.1898, 0.2241), (0.1796, 0.242)],
              red=(1.8, 0.6)),
    "b": dict(x=(522.7, 875.5), rows=TOP_ROWS, xlim=(-35.2, 758.7), cap=(677, 385),
              ylims=[(0.3707, 0.5957), (0.0058, 0.0326), (0.5036, 0.5668), (0.4616, 0.571)],
              red=(1.8, 0.6)),
    "c": dict(x=(986, 1333), rows=[(9.3, 78.3), (92.7, 161), (176, 245), (259.3, 327.7)],
              xlim=(-37.4, 739), cap=(1155, 385),
              ylims=[(0.189, 0.337), (0.0051, 0.0265), (0.2285, 0.2842), (0.2152, 0.3067)],
              red=(1.1, 0.95)),
    "d": dict(x=(60, 404), rows=[(434.3, 501), (519, 584.3), (604.3, 669), (687.3, 753.3)],
              xlim=(-35.8, 735.5), cap=(213, 810),
              ylims=[(0.1058, 0.27), (-0.0016, 0.0322), (0.1358, 0.2167), (0.105, 0.2288)],
              red=(1.8, 0.6)),
    "e": dict(x=(522.7, 876), rows=[(435.7, 504), (517.7, 587.3), (600, 670), (680, 748.3)],
              xlim=(-35, 758), cap=(675, 810),
              ylims=[(0.2814, 0.52), (0.0131, 0.0366), (0.3667, 0.4667), (0.3494, 0.4791)],
              red=(1.3, 0.9)),
    "f": dict(x=(986, 1333), rows=[(434.3, 501), (518.3, 585.7), (602.3, 669), (686.7, 752.7)],
              xlim=(-37.4, 739), cap=(1139, 810),
              ylims=[(0.30, 0.498), (0.014, 0.0389), (0.352, 0.432), (0.342, 0.4724)],
              red=(1.1, 0.8)),
}

BLUE = "#1f77b4"
sns.set_theme(style="whitegrid")
plt.rcParams["font.family"] = ["DejaVu Sans"]
plt.rcParams["axes.edgecolor"] = "black"
plt.rcParams["axes.linewidth"] = 0.9

fig = plt.figure(figsize=(W / 100, H / 100), dpi=100)
fig.patch.set_facecolor("white")

t0 = pd.Timestamp("2019-01-01")
xt = pd.to_datetime(xtick_dates)

for p_idx, key in enumerate("abcdef"):
    lay = layout[key]
    left, right = lay["x"]
    width_px = right - left
    for r in range(4):
        top, bot = lay["rows"][r]
        ax = fig.add_axes([left / W, 1 - bot / H, width_px / W, (bot - top) / H])
        vals = panel_data[key][r]
        if r == 0:
            dates = pd.date_range(TS_START, periods=len(vals), freq="3D")
            lw = 1.2
        elif r in (1, 2):
            dates = pd.date_range(STAT_START, periods=len(vals), freq="9D")
            lw = 0.95
        else:
            dates = pd.date_range(TREND_START, periods=len(vals), freq="7D")
            lw = 0.95
        df = pd.DataFrame({"date": dates, "value": vals})
        sns.lineplot(data=df, x="date", y="value", ax=ax, color=BLUE,
                     linewidth=lw, estimator=None, legend=False)
        rlw, ralpha = lay["red"]
        ax.axvline(pd.Timestamp(change_dates[p_idx]), color="red", lw=rlw,
                   alpha=ralpha, zorder=3)
        ax.set_xlim(t0 + pd.Timedelta(days=lay["xlim"][0]),
                    t0 + pd.Timedelta(days=lay["xlim"][1]))
        ax.set_ylim(*lay["ylims"][r])
        ax.set_xticks(xt)
        ax.set_yticks(yticks[key][r])
        ax.set_yticklabels(ytick_labels[key][r])
        if r == 3:
            ax.set_xticklabels(xtick_labels)
        else:
            ax.set_xticklabels([])
        ax.set_xlabel("")
        ax.set_ylabel(series_names[p_idx] if r == 0 else row_names[r - 1],
                      fontsize=9.5, color="#111111")
        ax.yaxis.set_label_coords(-39.0 / width_px, 0.5)
        ax.tick_params(axis="x", bottom=True, length=4, width=0.8, color="black",
                       labelsize=8, labelcolor="#222222", pad=3)
        ax.tick_params(axis="y", left=False, length=0, labelsize=8,
                       labelcolor="#222222", pad=6)
        ax.grid(True, color="#e4e4e4", linewidth=0.8)
        for s in ax.spines.values():
            s.set_color("black")
            s.set_linewidth(0.9)
        ax.set_facecolor("white")

    cx, cy = lay["cap"]
    fig.text(cx / W, 1 - cy / H, captions[p_idx], ha="center", va="center",
             fontsize=22.5, family=["Liberation Serif", "DejaVu Serif"], color="black")

fig.savefig("out.png", dpi=100, facecolor="white")
